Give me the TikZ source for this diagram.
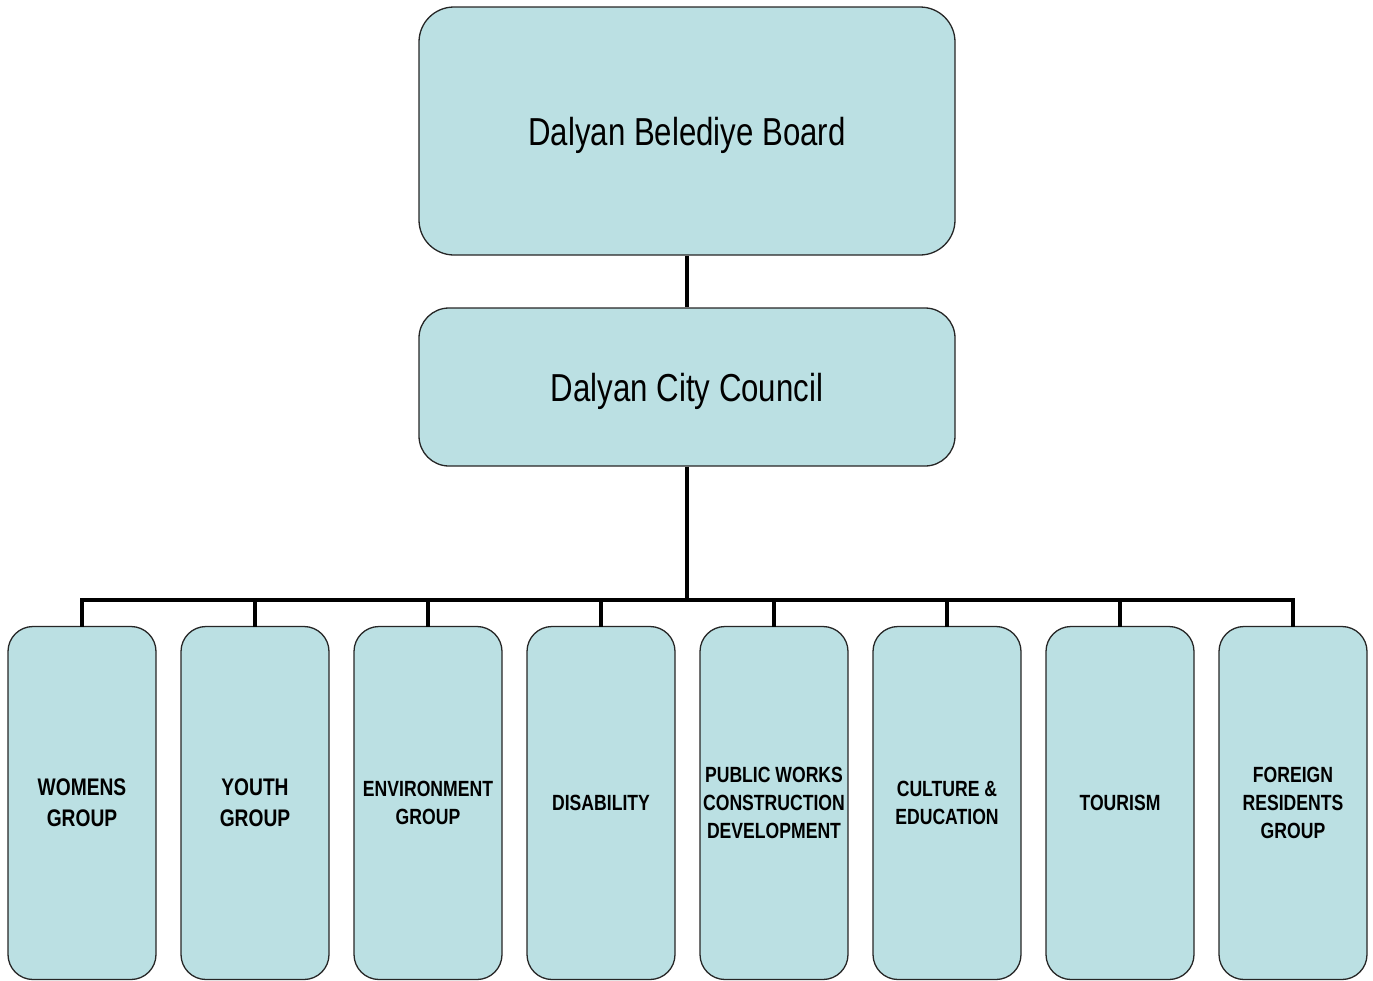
\documentclass[tikz,border=0pt]{standalone}
\usepackage{fontspec}
\setmainfont[FakeStretch=0.8]{Liberation Sans}
\usetikzlibrary{positioning}

\definecolor{boxfill}{HTML}{BBE0E3}

\tikzset{
	board/.style={draw=black!85, fill=boxfill, line width=1.3pt, rounded corners=35pt,
		minimum width=536pt, minimum height=248pt, text height=28pt, text depth=0pt,
		font=\fontsize{39}{44}\selectfont},
	group/.style={draw=black!85, fill=boxfill, line width=1.3pt, rounded corners=25pt,
		minimum width=148pt, minimum height=353pt, align=center, inner sep=0pt, outer sep=0pt,
		font=\fontsize{22}{28}\selectfont\bfseries},
	bus/.style={line width=3.6pt, black}
}

\begin{document}
\begin{tikzpicture}[x=1pt, y=-1pt]
	\useasboundingbox (0,0) rectangle (1373,980);

	\node[board] (board) at (687,131) {Dalyan Belediye Board};
	\node[board, minimum height=158pt, rounded corners=30pt] (council) at (687,387) {Dalyan City Council};

	\node[group, font=\fontsize{24}{31}\selectfont\bfseries] (g1) at (82,803) {WOMENS\\GROUP};
	\node[group, font=\fontsize{24}{31}\selectfont\bfseries, right=25pt of g1] (g2) {YOUTH\\GROUP};
	\node[group, right=25pt of g2] (g3) {ENVIRONMENT\\GROUP};
	\node[group, right=25pt of g3] (g4) {DISABILITY};
	\node[group, right=25pt of g4] (g5) {PUBLIC WORKS\\CONSTRUCTION\\DEVELOPMENT};
	\node[group, right=25pt of g5] (g6) {CULTURE \&\\EDUCATION};
	\node[group, right=25pt of g6] (g7) {TOURISM};
	\node[group, right=25pt of g7] (g8) {FOREIGN\\RESIDENTS\\GROUP};

	\coordinate (hub) at (687,600);

	\draw[bus] (board) -- (council);
	\draw[bus] (council) -- (hub);
	\foreach \g in {g1,g2,g3,g4,g5,g6,g7,g8}
		\draw[bus] (\g.north) |- (hub);
\end{tikzpicture}
\end{document}
